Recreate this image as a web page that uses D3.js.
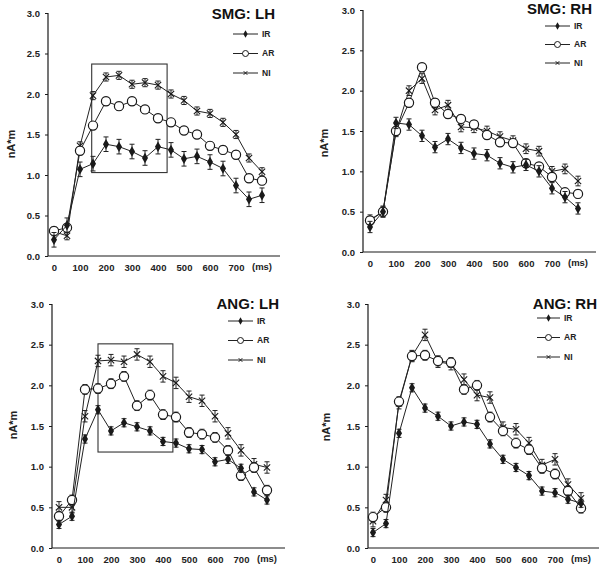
<!DOCTYPE html>
<html><head><meta charset="utf-8">
<script src="https://cdn.jsdelivr.net/npm/d3@7"></script>
<style>
html,body{margin:0;padding:0;background:#fff;}
svg{display:block;font-family:"Liberation Sans",Arial,sans-serif;}
</style></head>
<body>
<svg id="chart" width="600" height="569"></svg>
<script>
// ---- data ----
const times = [0,50,100,150,200,250,300,350,400,450,500,550,600,650,700,750,800];
const seriesNames = ["IR","AR","NI"];
const yTicks = [0,0.5,1.0,1.5,2.0,2.5,3.0];
const xTicks = [0,100,200,300,400,500,600,700];
const panelTitles = ["SMG: LH","SMG: RH","ANG: LH","ANG: RH"];

const smgLH_IR = [0.20,0.38,1.07,1.14,1.38,1.35,1.29,1.21,1.35,1.31,1.20,1.23,1.16,1.08,0.87,0.70,0.75];
const smgLH_AR = [0.31,0.35,1.30,1.61,1.91,1.85,1.91,1.81,1.70,1.65,1.55,1.50,1.36,1.31,1.25,0.96,0.93];
const smgLH_NI = [0.30,0.25,1.36,1.98,2.21,2.23,2.12,2.14,2.11,2.00,1.92,1.79,1.76,1.65,1.50,1.21,1.04];

const smgRH_IR = [0.31,0.50,1.60,1.58,1.44,1.30,1.40,1.29,1.22,1.20,1.10,1.05,1.08,1.00,0.79,0.68,0.54];
const smgRH_AR = [0.39,0.50,1.50,1.85,2.29,1.85,1.71,1.65,1.58,1.45,1.36,1.35,1.10,1.06,0.93,0.74,0.72];
const smgRH_NI = [0.40,0.50,1.49,2.00,2.15,1.76,1.82,1.55,1.54,1.50,1.43,1.38,1.28,1.25,1.00,1.03,0.88];

const angLH_IR = [0.29,0.39,1.34,1.70,1.44,1.54,1.49,1.44,1.31,1.29,1.22,1.21,1.06,1.09,0.98,0.69,0.59];
const angLH_AR = [0.39,0.59,1.95,1.96,2.02,2.11,1.75,1.88,1.64,1.61,1.42,1.40,1.36,1.20,0.89,0.99,0.71];
const angLH_NI = [0.50,0.50,1.62,2.30,2.31,2.29,2.38,2.29,2.11,2.03,1.86,1.81,1.62,1.41,1.20,1.03,0.99];

const angRH_IR = [0.19,0.30,1.41,1.97,1.72,1.62,1.50,1.55,1.52,1.28,1.09,0.99,0.89,0.70,0.68,0.60,0.55];
const angRH_AR = [0.38,0.50,1.80,2.36,2.37,2.30,2.28,1.95,2.00,1.61,1.44,1.29,1.21,0.98,0.91,0.70,0.49];
const angRH_NI = [0.33,0.59,1.78,2.36,2.62,2.29,2.26,2.07,1.88,1.85,1.48,1.46,1.29,1.02,1.09,0.78,0.61];

// estimated standard-error half widths (IR, AR, NI) per panel
const errSmgLH = [0.09,0.05,0.05];
const errSmgRH = [0.07,0.05,0.06];
const errAngLH = [0.05,0.06,0.07];
const errAngRH = [0.05,0.06,0.07];

// highlight boxes [t0, t1, v0, v1]
const boxSmgLH = [145,435,1.03,2.37];
const boxAngLH = [150,438,1.18,2.51];

// ---- layout (pixels) ----
const layout = [
  {ax:48, y0:256, y3:13, x0:54, x800:262, axEnd:280, title:[275,19], leg:[233,258,34,19.5], ylab:[11,144]},
  {ax:363, y0:252, y3:10, x0:370, x800:578, axEnd:596, title:[592,14], leg:[545,570,26,18.5], ylab:[324,143]},
  {ax:52, y0:548, y3:304, x0:59, x800:267, axEnd:285, title:[279,309], leg:[228,253,321,19.5], ylab:[13,425]},
  {ax:368, y0:548, y3:304, x0:373, x800:581, axEnd:599, title:[597,309], leg:[537,560,318,19.5], ylab:[326,427]}
];
const panelData = [
  {series:[smgLH_IR,smgLH_AR,smgLH_NI], err:errSmgLH, box:boxSmgLH},
  {series:[smgRH_IR,smgRH_AR,smgRH_NI], err:errSmgRH, box:null},
  {series:[angLH_IR,angLH_AR,angLH_NI], err:errAngLH, box:boxAngLH},
  {series:[angRH_IR,angRH_AR,angRH_NI], err:errAngRH, box:null}
];

const svg = d3.select("#chart");
const ink = "#1a1a1a";

function drawMarker(g, name, cx, cy) {
  if (name === "IR") {
    g.append("path").attr("d", d3.symbol(d3.symbolDiamond, 32)())
      .attr("transform", `translate(${cx},${cy})`).attr("fill", ink);
  } else if (name === "AR") {
    g.append("circle").attr("cx", cx).attr("cy", cy).attr("r", 4.6)
      .attr("fill", "#fff").attr("stroke", ink).attr("stroke-width", 1.2);
  } else {
    g.append("path").attr("d", d3.symbol(d3.symbolX, 28)())
      .attr("transform", `translate(${cx},${cy})`).attr("fill", "none")
      .attr("stroke", ink).attr("stroke-width", 1.1);
  }
}

layout.forEach((L, pi) => {
  const P = panelData[pi];
  const g = svg.append("g");
  const x = d3.scaleLinear().domain([0,800]).range([L.x0, L.x800]);
  const y = d3.scaleLinear().domain([0,3]).range([L.y0, L.y3]);

  // y axis
  const yAxis = d3.axisLeft(y).tickValues(yTicks).tickFormat(d3.format(".1f")).tickSize(3).tickPadding(5);
  const ya = g.append("g").attr("transform", `translate(${L.ax},0)`).call(yAxis);
  ya.select(".domain").attr("d", `M0,${L.y3}V${L.y0}`).attr("stroke", ink).attr("stroke-width", 1.2);
  ya.selectAll(".tick line").attr("stroke", ink);
  ya.selectAll(".tick text").attr("font-size", 9.5).attr("font-weight", "bold").attr("fill", "#222")
    .attr("font-family", '"Liberation Sans",Arial,sans-serif');

  // x axis
  const xAxis = d3.axisBottom(x).tickValues(xTicks).tickFormat(d3.format("d")).tickSize(0).tickPadding(8);
  const xa = g.append("g").attr("transform", `translate(0,${L.y0})`).call(xAxis);
  xa.select(".domain").attr("d", `M${L.ax},0H${L.axEnd}`).attr("stroke", ink).attr("stroke-width", 1.2);
  xa.selectAll(".tick text").attr("font-size", 9.5).attr("font-weight", "bold").attr("fill", "#222")
    .attr("font-family", '"Liberation Sans",Arial,sans-serif');
  g.append("text").attr("x", x(800)).attr("y", L.y0 + 14).attr("text-anchor", "middle")
    .attr("font-size", 9.5).attr("font-weight", "bold").attr("fill", "#222").text("(ms)");

  // y label
  g.append("text").attr("transform", `translate(${L.ylab[0]},${L.ylab[1]}) rotate(-90)`)
    .attr("text-anchor", "middle").attr("dy", "0.35em").attr("font-size", 11).attr("font-weight", "bold")
    .attr("fill", "#222").text("nA*m");

  // title
  g.append("text").attr("x", L.title[0]).attr("y", L.title[1]).attr("text-anchor", "end")
    .attr("font-size", 15).attr("font-weight", "bold").attr("fill", "#111").text(panelTitles[pi]);

  // box
  if (P.box) {
    const b = P.box;
    g.append("rect").attr("x", x(b[0])).attr("y", y(b[3]))
      .attr("width", x(b[1]) - x(b[0])).attr("height", y(b[2]) - y(b[3]))
      .attr("fill", "none").attr("stroke", "#333").attr("stroke-width", 1.1);
  }

  // series (draw NI, AR, IR so IR sits on top)
  [2,1,0].forEach(si => {
    const vals = P.series[si];
    const e = P.err[si];
    const name = seriesNames[si];
    const sg = g.append("g");
    const line = d3.line().x((d,i) => x(times[i])).y(d => y(d));
    sg.append("path").datum(vals).attr("d", line).attr("fill", "none")
      .attr("stroke", "#222").attr("stroke-width", 1);
    vals.forEach((v, i) => {
      const cx = x(times[i]);
      sg.append("path").attr("d", `M${cx},${y(v+e)}V${y(v-e)}M${cx-2.5},${y(v+e)}H${cx+2.5}M${cx-2.5},${y(v-e)}H${cx+2.5}`)
        .attr("stroke", "#222").attr("stroke-width", 1).attr("fill", "none");
    });
    vals.forEach((v, i) => drawMarker(sg, name, x(times[i]), y(v)));
  });

  // legend
  seriesNames.forEach((name, si) => {
    const ly = L.leg[2] + si * L.leg[3];
    const lg = g.append("g");
    lg.append("line").attr("x1", L.leg[0]).attr("x2", L.leg[1]).attr("y1", ly).attr("y2", ly)
      .attr("stroke", "#222").attr("stroke-width", 1);
    const mx = (L.leg[0] + L.leg[1]) / 2;
    if (name === "IR") {
      lg.append("path").attr("d", d3.symbol(d3.symbolDiamond, 16)()).attr("transform", `translate(${mx},${ly})`).attr("fill", ink);
    } else if (name === "AR") {
      lg.append("circle").attr("cx", mx).attr("cy", ly).attr("r", 3).attr("fill", "#fff").attr("stroke", ink).attr("stroke-width", 1);
    } else {
      lg.append("path").attr("d", d3.symbol(d3.symbolX, 10)()).attr("transform", `translate(${mx},${ly})`)
        .attr("fill", "none").attr("stroke", ink).attr("stroke-width", 1);
    }
    lg.append("text").attr("x", L.leg[1] + 4).attr("y", ly).attr("dy", "0.35em")
      .attr("font-size", 8.5).attr("font-weight", "bold").attr("fill", "#222").text(name);
  });
});
</script>
</body></html>
